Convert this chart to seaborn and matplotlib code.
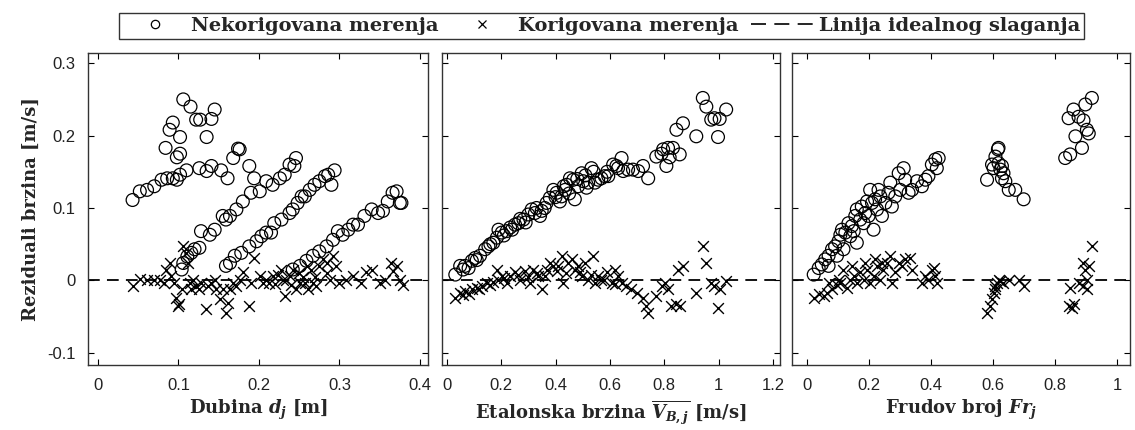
import pandas as pd
import matplotlib.pyplot as plt
import seaborn as sns
from matplotlib.lines import Line2D
from matplotlib.ticker import FuncFormatter

# --- data ---
# panel 1: residuals vs depth d_j [m]
depth_unc = [0.043, 0.052, 0.061, 0.070, 0.079, 0.086, 0.093, 0.098, 0.102, 0.110, 0.126, 0.135, 0.141, 0.153, 0.161,
             0.106, 0.115, 0.084, 0.089, 0.093, 0.102, 0.098, 0.102, 0.122, 0.127, 0.135, 0.141, 0.145, 0.174, 0.176, 0.168, 0.188, 0.194,
             0.104, 0.106, 0.111, 0.116, 0.120, 0.126, 0.128, 0.139, 0.145, 0.155, 0.159, 0.164, 0.172, 0.180, 0.190, 0.201, 0.209, 0.217, 0.226, 0.232, 0.238, 0.244, 0.246,
             0.159, 0.164, 0.170, 0.178, 0.188, 0.197, 0.203, 0.209, 0.215, 0.219, 0.228, 0.238, 0.242, 0.248, 0.253, 0.257, 0.263, 0.269, 0.275, 0.282, 0.286, 0.290, 0.294,
             0.242, 0.251, 0.259, 0.267, 0.275, 0.284, 0.292, 0.298, 0.304, 0.311, 0.317, 0.323, 0.331, 0.340, 0.348, 0.354, 0.360, 0.366, 0.371, 0.375, 0.377]
res_unc_depth = [0.111, 0.123, 0.125, 0.130, 0.139, 0.141, 0.141, 0.139, 0.146, 0.152, 0.155, 0.151, 0.158, 0.152, 0.141,
                 0.250, 0.240, 0.183, 0.208, 0.218, 0.198, 0.170, 0.175, 0.222, 0.222, 0.198, 0.223, 0.236, 0.182, 0.181, 0.169, 0.158, 0.141,
                 0.015, 0.024, 0.033, 0.038, 0.043, 0.045, 0.068, 0.063, 0.070, 0.089, 0.084, 0.089, 0.098, 0.109, 0.121, 0.123, 0.137, 0.132, 0.141, 0.146, 0.160, 0.158, 0.169,
                 0.020, 0.024, 0.034, 0.038, 0.047, 0.054, 0.061, 0.066, 0.066, 0.079, 0.084, 0.093, 0.098, 0.107, 0.116, 0.116, 0.125, 0.132, 0.137, 0.144, 0.146, 0.132, 0.152,
                 0.015, 0.020, 0.027, 0.034, 0.040, 0.047, 0.056, 0.068, 0.063, 0.070, 0.077, 0.077, 0.089, 0.098, 0.093, 0.096, 0.109, 0.121, 0.123, 0.107, 0.107]
depth_cor = [0.043, 0.052, 0.061, 0.070, 0.077, 0.082, 0.085, 0.089, 0.091, 0.095, 0.097, 0.099, 0.101, 0.105, 0.106, 0.110, 0.112, 0.114, 0.116, 0.118,
             0.122, 0.126, 0.128, 0.134, 0.137, 0.141, 0.145, 0.147, 0.151, 0.155, 0.159, 0.161, 0.164, 0.168, 0.172, 0.176, 0.180, 0.188, 0.190, 0.194,
             0.201, 0.205, 0.209, 0.213, 0.217, 0.224, 0.228, 0.232, 0.234, 0.238, 0.242, 0.246, 0.251, 0.257, 0.261, 0.267, 0.271, 0.275, 0.280, 0.284,
             0.288, 0.292, 0.296, 0.300, 0.308, 0.317, 0.327, 0.333, 0.340, 0.350, 0.356, 0.364, 0.366, 0.371, 0.375, 0.379,
             0.250, 0.260, 0.270, 0.285, 0.265, 0.255, 0.220, 0.230, 0.240]
res_cor_depth = [-0.008, 0.002, 0.001, 0.000, 0.001, -0.003, 0.015, 0.024, 0.006, -0.003, -0.024, -0.035, -0.033, -0.012, 0.047, 0.038, 0.024, -0.003, -0.012, 0.001,
                 -0.008, -0.012, -0.003, -0.039, -0.008, -0.003, 0.001, -0.012, -0.026, -0.012, -0.045, -0.031, -0.012, -0.003, -0.008, 0.001, 0.011, -0.035, -0.003, 0.031,
                 0.006, -0.003, 0.001, -0.003, 0.006, 0.008, 0.015, -0.022, 0.001, 0.006, 0.015, -0.012, -0.003, -0.003, -0.012, -0.003, -0.008, 0.020, 0.029, 0.024,
                 0.001, 0.034, 0.020, -0.003, 0.001, 0.006, -0.003, 0.011, 0.015, -0.003, 0.001, 0.024, 0.013, 0.020, 0.001, -0.006,
                 0.010, 0.020, 0.005, 0.010, 0.015, 0.005, -0.005, 0.000, -0.006]

# panel 2: residuals vs reference velocity [m/s]
vel_unc = [0.031, 0.049, 0.067, 0.080, 0.092, 0.104, 0.122, 0.141, 0.153, 0.171, 0.184, 0.190, 0.202, 0.220, 0.233, 0.251, 0.263, 0.282, 0.300, 0.312,
           0.324, 0.343, 0.349, 0.367, 0.379, 0.392, 0.404, 0.416, 0.422, 0.435, 0.441, 0.453, 0.465, 0.471, 0.483, 0.496, 0.502, 0.514, 0.520, 0.532,
           0.545, 0.557, 0.569, 0.581, 0.594, 0.612, 0.624, 0.643, 0.649, 0.667, 0.685, 0.704, 0.722, 0.741, 0.771, 0.796, 0.814, 0.808, 0.832, 0.857,
           0.845, 0.869, 0.918, 0.942, 0.955, 0.973, 0.985, 0.998, 1.004, 1.028,
           0.060, 0.110, 0.160, 0.210, 0.240, 0.270, 0.290, 0.330, 0.360, 0.400, 0.430, 0.450, 0.480, 0.510, 0.540, 0.590, 0.630, 0.790, 0.820]
res_unc_vel = [0.008, 0.020, 0.020, 0.017, 0.027, 0.031, 0.034, 0.043, 0.047, 0.052, 0.059, 0.070, 0.066, 0.068, 0.073, 0.077, 0.079, 0.084, 0.091, 0.098,
               0.093, 0.089, 0.096, 0.107, 0.114, 0.125, 0.121, 0.109, 0.116, 0.125, 0.132, 0.141, 0.139, 0.112, 0.130, 0.148, 0.137, 0.128, 0.135, 0.155,
               0.135, 0.139, 0.141, 0.144, 0.144, 0.160, 0.158, 0.169, 0.151, 0.153, 0.153, 0.151, 0.158, 0.141, 0.171, 0.181, 0.183, 0.158, 0.183, 0.174,
               0.208, 0.217, 0.199, 0.252, 0.240, 0.222, 0.224, 0.198, 0.223, 0.236,
               0.015, 0.028, 0.050, 0.062, 0.070, 0.085, 0.080, 0.100, 0.100, 0.115, 0.130, 0.120, 0.140, 0.145, 0.150, 0.150, 0.155, 0.175, 0.170]
vel_cor = [0.031, 0.049, 0.067, 0.080, 0.092, 0.110, 0.129, 0.147, 0.159, 0.184, 0.190, 0.202, 0.220, 0.233, 0.251, 0.269, 0.288, 0.306, 0.318, 0.337,
           0.349, 0.361, 0.379, 0.392, 0.404, 0.422, 0.428, 0.447, 0.459, 0.471, 0.483, 0.496, 0.508, 0.520, 0.539, 0.545, 0.557, 0.569, 0.588, 0.606,
           0.618, 0.631, 0.643, 0.661, 0.679, 0.698, 0.722, 0.734, 0.741, 0.771, 0.790, 0.802, 0.814, 0.826, 0.845, 0.857, 0.851, 0.869, 0.918, 0.942,
           0.955, 0.973, 0.985, 0.998, 1.004, 1.028,
           0.060, 0.120, 0.170, 0.210, 0.260, 0.300, 0.330, 0.370, 0.410, 0.440, 0.490, 0.530, 0.580, 0.620]
res_cor_vel = [-0.024, -0.017, -0.015, -0.019, -0.012, -0.010, -0.008, -0.003, -0.006, 0.015, 0.001, 0.006, -0.003, 0.006, 0.011, 0.001, 0.013, -0.003, 0.015, 0.006,
               -0.012, 0.006, 0.024, 0.020, 0.013, 0.034, -0.003, 0.024, 0.029, 0.015, 0.020, 0.006, 0.024, 0.001, 0.034, -0.003, 0.006, 0.001, 0.011, -0.003,
               0.015, 0.006, -0.003, -0.008, -0.012, -0.017, -0.024, -0.035, -0.045, -0.022, -0.008, -0.003, -0.012, -0.035, -0.033, -0.035, 0.015, 0.020, -0.017, 0.047,
               0.024, -0.003, -0.008, -0.038, -0.012, -0.001,
               -0.020, -0.012, -0.002, 0.003, 0.008, 0.005, 0.010, 0.015, 0.020, 0.010, 0.012, 0.008, 0.000, -0.005]

# panel 3: residuals vs Froude number
fr_unc = [0.022, 0.038, 0.048, 0.059, 0.070, 0.081, 0.091, 0.102, 0.108, 0.113, 0.124, 0.134, 0.145, 0.156, 0.161, 0.172, 0.177, 0.188, 0.194, 0.204,
          0.210, 0.215, 0.220, 0.226, 0.237, 0.242, 0.253, 0.263, 0.269, 0.274, 0.285, 0.296, 0.301, 0.312, 0.317, 0.328, 0.339, 0.355, 0.371, 0.382,
          0.392, 0.403, 0.414, 0.419, 0.425,
          0.140, 0.118, 0.161, 0.199, 0.183, 0.231, 0.097, 0.070, 0.151,
          0.581, 0.597, 0.608, 0.616, 0.618, 0.602, 0.624, 0.629, 0.634, 0.640, 0.651, 0.672, 0.699, 0.618, 0.629,
          0.833, 0.849, 0.844, 0.860, 0.876, 0.892, 0.866, 0.887, 0.903, 0.909, 0.919, 0.898]
res_unc_fr = [0.008, 0.017, 0.022, 0.029, 0.034, 0.043, 0.047, 0.054, 0.063, 0.070, 0.066, 0.079, 0.075, 0.089, 0.098, 0.084, 0.102, 0.093, 0.109, 0.125,
              0.107, 0.070, 0.112, 0.098, 0.116, 0.089, 0.107, 0.121, 0.135, 0.102, 0.116, 0.148, 0.125, 0.155, 0.139, 0.121, 0.125, 0.137, 0.130, 0.139,
              0.144, 0.160, 0.167, 0.155, 0.169,
              0.061, 0.043, 0.052, 0.089, 0.079, 0.125, 0.034, 0.020, 0.068,
              0.139, 0.160, 0.171, 0.181, 0.183, 0.155, 0.153, 0.141, 0.148, 0.137, 0.125, 0.125, 0.112, 0.162, 0.158,
              0.169, 0.174, 0.224, 0.236, 0.226, 0.221, 0.199, 0.183, 0.208, 0.203, 0.252, 0.243]
fr_cor = [0.022, 0.038, 0.054, 0.065, 0.081, 0.097, 0.108, 0.118, 0.129, 0.140, 0.151, 0.161, 0.172, 0.183, 0.194, 0.204, 0.215, 0.226, 0.237, 0.247,
          0.258, 0.269, 0.274, 0.285, 0.296, 0.306, 0.317, 0.333, 0.339, 0.371, 0.382, 0.392, 0.403, 0.414, 0.419, 0.409,
          0.070, 0.102, 0.145, 0.188, 0.220, 0.242,
          0.581, 0.591, 0.597, 0.602, 0.608, 0.613, 0.618, 0.624, 0.634, 0.651, 0.683, 0.699, 0.608,
          0.844, 0.855, 0.860, 0.849, 0.876, 0.892, 0.898, 0.903, 0.892, 0.903, 0.919, 0.909]
res_cor_fr = [-0.024, -0.019, -0.022, -0.017, -0.012, -0.006, -0.003, 0.015, -0.010, 0.001, 0.006, -0.003, 0.011, 0.001, 0.015, -0.003, 0.006, 0.020, 0.001, 0.015,
              0.024, 0.034, -0.003, 0.011, 0.024, 0.020, 0.029, 0.031, 0.015, -0.003, 0.006, 0.001, 0.015, 0.006, -0.003, 0.017,
              -0.003, 0.001, 0.020, 0.024, 0.029, 0.024,
              -0.045, -0.035, -0.026, -0.017, -0.008, -0.003, 0.001, -0.001, -0.003, 0.001, 0.001, -0.008, -0.012,
              -0.035, -0.038, -0.033, -0.010, -0.003, 0.024, 0.015, 0.001, -0.008, -0.012, 0.047, 0.020]

ideal_residual = 0.0

x_labels = ["Dubina $d_j$ [m]",
            "Etalonska brzina $\\overline{V_{B,j}}$ [m/s]",
            "Frudov broj $Fr_j$"]
y_label = "Reziduali brzina [m/s]"
legend_labels = ["Nekorigovana merenja", "Korigovana merenja", "Linija idealnog slaganja"]

x_ticks = [[0, 0.1, 0.2, 0.3, 0.4],
           [0, 0.2, 0.4, 0.6, 0.8, 1.0, 1.2],
           [0, 0.2, 0.4, 0.6, 0.8, 1.0]]
y_ticks = [-0.1, 0, 0.1, 0.2, 0.3]
x_limits = [(-0.0124, 0.41), (-0.018, 1.226), (-0.048, 1.042)]
y_limits = (-0.117, 0.314)

panels = [
    (pd.DataFrame({"x": depth_unc, "y": res_unc_depth}), pd.DataFrame({"x": depth_cor, "y": res_cor_depth})),
    (pd.DataFrame({"x": vel_unc, "y": res_unc_vel}), pd.DataFrame({"x": vel_cor, "y": res_cor_vel})),
    (pd.DataFrame({"x": fr_unc, "y": res_unc_fr}), pd.DataFrame({"x": fr_cor, "y": res_cor_fr})),
]

sns.set_theme(style="ticks")
plt.rcParams["font.family"] = ["DejaVu Serif"]
plt.rcParams["mathtext.fontset"] = "custom"
plt.rcParams["mathtext.rm"] = "DejaVu Serif:bold"
plt.rcParams["mathtext.it"] = "DejaVu Serif:italic:bold"
plt.rcParams["mathtext.bf"] = "DejaVu Serif:bold"
plt.rcParams["axes.unicode_minus"] = False

fig = plt.figure(figsize=(11.35, 4.3), dpi=100)
lefts = [0.0775, 0.3894, 0.6978]
widths = [0.2996, 0.2978, 0.2978]
bottom, height = 0.151, 0.7256

fmt = FuncFormatter(lambda v, p: f"{v:g}")

for i, (unc, cor) in enumerate(panels):
    ax = fig.add_axes([lefts[i], bottom, widths[i], height])
    ax.axhline(ideal_residual, color="black", lw=1.3, ls=(0, (6.5, 4)), zorder=1)
    sns.scatterplot(data=unc, x="x", y="y", ax=ax, marker="o", s=85,
                    facecolor="none", edgecolor="black", linewidth=0.9, zorder=3)
    sns.scatterplot(data=cor, x="x", y="y", ax=ax, marker="x", s=60,
                    color="black", linewidth=1.0, zorder=2)
    ax.set_xlim(*x_limits[i])
    ax.set_ylim(*y_limits)
    ax.set_xticks(x_ticks[i])
    ax.set_yticks(y_ticks)
    ax.xaxis.set_major_formatter(fmt)
    ax.yaxis.set_major_formatter(fmt)
    ax.tick_params(direction="in", length=4, width=0.8, top=True, right=True,
                   labelsize=12, labelfontfamily="Liberation Sans", pad=9,
                   colors="black", labelcolor="#222222")
    for sp in ax.spines.values():
        sp.set_color("#333333")
        sp.set_linewidth(1.0)
    ax.set_xlabel(x_labels[i], fontsize=13, fontweight="bold", labelpad=4)
    if i == 0:
        ax.set_ylabel(y_label, fontsize=13, fontweight="bold", labelpad=5)
    else:
        ax.set_ylabel("")
        ax.tick_params(labelleft=False)

handles = [
    Line2D([], [], marker="o", ls="none", mfc="none", mec="black", ms=6, mew=0.9),
    Line2D([], [], marker="x", ls="none", color="black", ms=6, mew=0.9),
    Line2D([], [], ls=(0, (9.0, 5.0)), color="black", lw=1.2),
]
leg = fig.legend(handles, legend_labels, loc="center", bbox_to_anchor=(0.530, 0.939),
                 ncol=3, frameon=True, fancybox=False, edgecolor="black",
                 prop={"family": "DejaVu Serif", "weight": "bold", "size": 14},
                 handlelength=3.3, handletextpad=0.2, columnspacing=0.6,
                 borderpad=0.2, borderaxespad=0)
leg.get_frame().set_linewidth(1.0)

plt.savefig("out.png", dpi=100)
